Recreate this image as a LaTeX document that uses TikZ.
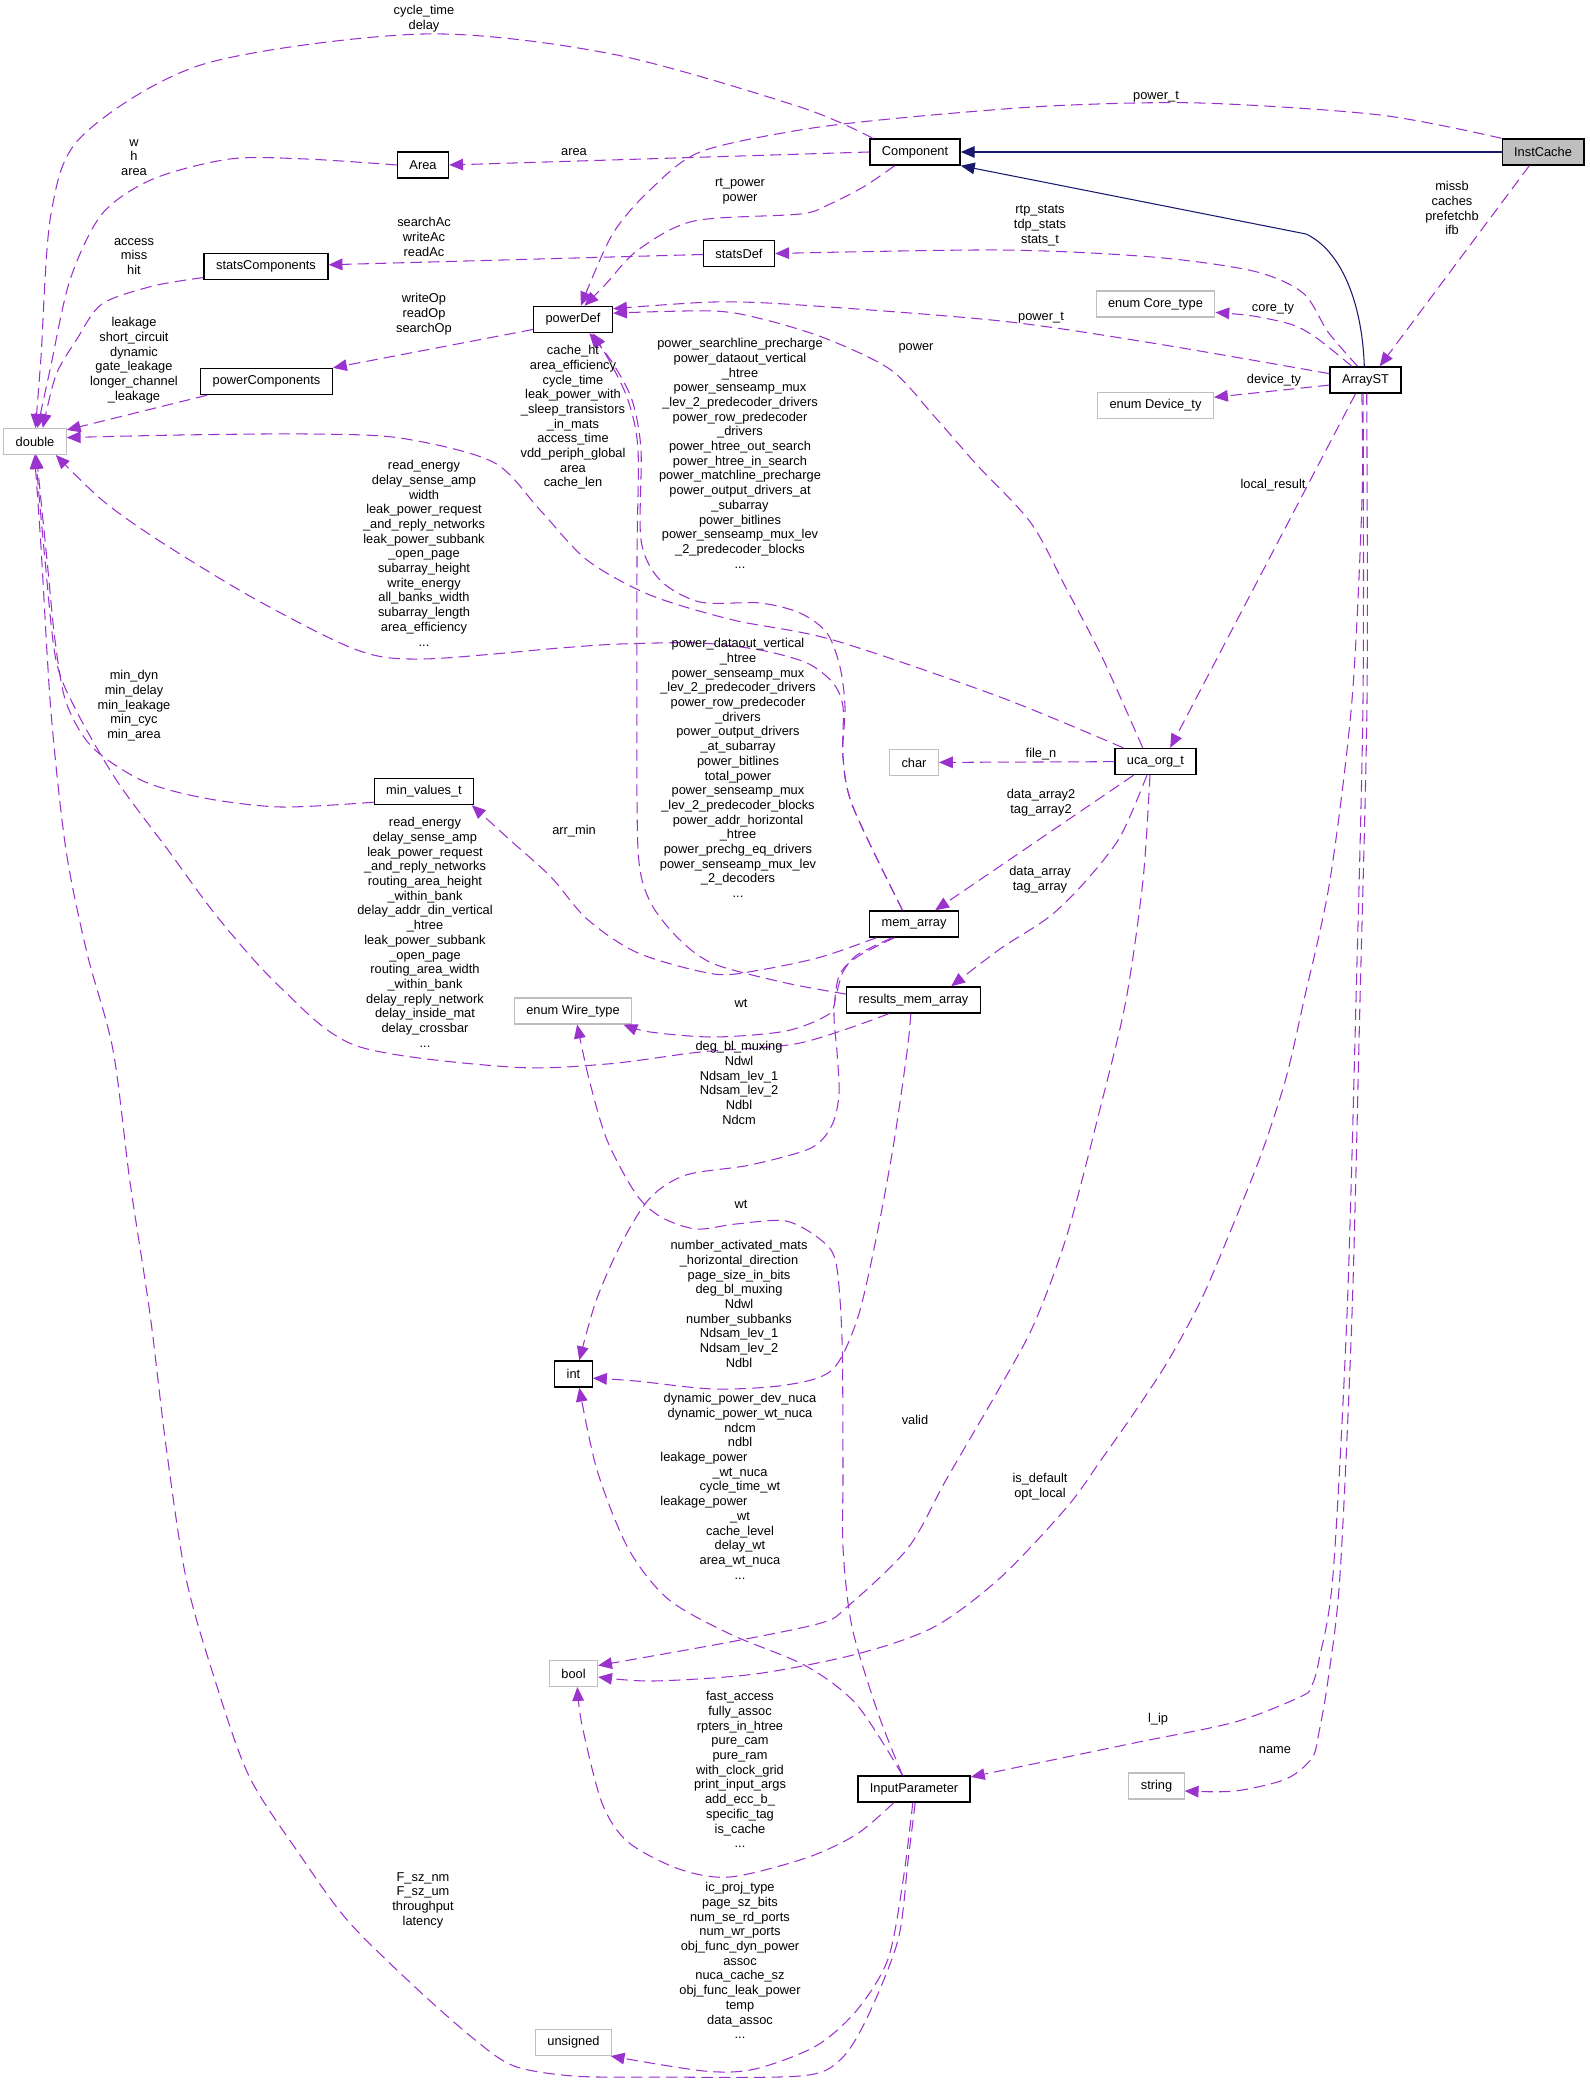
\documentclass[tikz,border=0pt]{standalone}
\usepackage{fontspec}
\setmainfont{Liberation Sans}
\usepackage{xcolor}
\usepackage{tikz}
\usetikzlibrary{arrows.meta}
\definecolor{edgepurple}{HTML}{9A32CD}
\definecolor{inhnavy}{HTML}{191970}
\definecolor{boxgray}{HTML}{BFBFBF}

\begin{document}
\begin{tikzpicture}[x=0.02cm, y=-0.02cm, font=\fontsize{7.3}{8.37}\selectfont,
	cls/.style={draw=black, line width=0.8pt, fill=white, inner xsep=6.8pt, inner ysep=0pt, minimum height=0.52cm},
	ext/.style={cls, draw=boxgray, line width=0.6pt},
	cur/.style={cls, fill=boxgray},
	dep/.style={color=edgepurple, line width=0.6pt, dash pattern=on 6.5pt off 3.5pt, -{Triangle[length=7.9pt,width=6.6pt]}},
	inh/.style={color=inhnavy, line width=0.6pt, -{Triangle[length=7.9pt,width=6.6pt]}},
	lbl/.style={anchor=north, inner sep=0pt, align=center, execute at begin node=\strut}]
		\useasboundingbox (0,0) rectangle (1589,2084);
		
		\node[cur] (InstCache) at (1543,152) {InstCache};
		\node[cls] (Component) at (915,152) {Component};
		\node[cls] (Area) at (423,165) {Area};
		\node[cls] (statsComponents) at (266,266.5) {statsComponents};
		\node[cls] (powerComponents) at (266.5,381.5) {powerComponents};
		\node[cls] (powerDef) at (573,319.5) {powerDef};
		\node[cls] (statsDef) at (739,253.5) {statsDef};
		\node[ext] (double) at (35,441.5) {double};
		\node[cls] (ArrayST) at (1365.5,380) {ArrayST};
		\node[ext] (CoreType) at (1155.5,304) {enum Core\_type};
		\node[ext] (DeviceTy) at (1155.5,405.5) {enum Device\_ty};
		\node[ext] (char) at (914,762.5) {char};
		\node[cls] (ucaOrgT) at (1155.5,761.5) {uca\_org\_t};
		\node[cls] (minValuesT) at (424,791.5) {min\_values\_t};
		\node[cls] (memArray) at (914,924) {mem\_array};
		\node[cls] (resultsMemArray) at (913.5,1000) {results\_mem\_array};
		\node[ext] (WireType) at (573,1011) {enum Wire\_type};
		\node[cls] (int) at (573.5,1374) {int};
		\node[ext] (bool) at (573.5,1673.5) {bool};
		\node[cls] (InputParameter) at (914,1789) {InputParameter};
		\node[ext] (string) at (1156.5,1786) {string};
		\node[ext] (unsigned) at (573.5,2042.5) {unsigned};
		
		\draw[inh] (InstCache) -- (Component);
		\draw[inh] (ArrayST.95) .. controls (1362,300) and (1340,250) .. (1306,234) -- (Component.south east);
		
		\draw[dep] plot[smooth] coordinates {(InstCache.north west) (1380,115) (1200,103) (1050,106) (900,118) (800,130) (700,152) (650,190) (612,235) (powerDef.60)};
		\draw[dep] plot[smooth] coordinates {(Component.162) (800,107) (612,54) (423,34) (204,64) (82,136) (51,214) (41,357) (double.88)};
		\draw[dep] (Component.west) -- (Area.east);
		\draw[dep] plot[smooth] coordinates {(Area.west) (306,159) (230,159) (153,179) (102,214) (70,280) (50,370) (double.80)};
		\draw[dep] plot[smooth] coordinates {(Component.214) (865,186) (830,204) (800,214) (694,221) (638,250) (605,285) (powerDef.50)};
		\draw[dep] (statsDef) -- (statsComponents);
		\draw[dep] plot[smooth] coordinates {(statsComponents.190) (153,286) (102,304) (77,339) (56,375) (double.60)};
		\draw[dep] plot[smooth] coordinates {(ArrayST.120) (1328,332) (1303,293) (1253,271) (1152,257) (1001,250) (statsDef.east)};
		\draw[dep] (powerDef.194) -- (powerComponents.north east);
		\draw[dep] (powerComponents.193) -- (double.20);
		\draw[dep] plot[smooth] coordinates {(ArrayST.170) (1152,343) (1001,321) (800,305) (714,302) (powerDef.15)};
		\draw[dep] plot[smooth] coordinates {(ArrayST.135) (1318,339) (1293,325) (1253,316) (CoreType.-8)};
		\draw[dep] (ArrayST.188) -- (DeviceTy.8);
		\draw[dep] (InstCache.225) -- (ArrayST.44);
		\draw[dep] (ArrayST.234) -- (ucaOrgT.43);
		\draw[dep] plot[smooth] coordinates {(ucaOrgT.133) (1102,657) (1066,588) (1031,523) (977,465) (934,416) (891,370) (827,339) (766,320) (714,311) (powerDef.9)};
		\draw[dep] plot[smooth] coordinates {(ucaOrgT.157) (1000,697) (833,640) (733,620) (650,595) (587,560) (540,510) (493,462) (400,438) (306,434) (180,435) (double.7)};
		\draw[dep] plot[smooth] coordinates {(memArray.130) (853,807) (843,757) (845,707) (840,667) (827,633) (800,613) (760,603) (700,602) (660,580) (641,540) (641,450) (632,400) (612,362) (powerDef.-40)};
		\draw[dep] plot[smooth] coordinates {(resultsMemArray.175) (786,983) (714,964) (680,940) (653,907) (640,870) (637,800) (637,560) (638,450) (628,400) (610,362) (powerDef.-35)};
		\draw[dep] plot[smooth] coordinates {(memArray.130) (853,807) (843,757) (843,707) (833,683) (807,663) (760,650) (700,643) (620,644) (560,648) (423,659) (357,650) (255,599) (158,540) (102,500) (double.-33)};
		\draw[dep] plot[smooth] coordinates {(resultsMemArray.209) (800,1043) (700,1052) (607,1064) (510,1067) (357,1046) (281,988) (219,919) (168,850) (117,781) (77,712) (56,660) (45,560) (double.-88)};
		\draw[dep] plot[smooth] coordinates {(minValuesT.192) (281,807) (204,798) (143,781) (92,747) (66,702) (55,640) (47,560) (double.-84)};
		\draw[dep] (ucaOrgT) -- (char);
		\draw[dep] (ucaOrgT.212) -- (memArray.33);
		\draw[dep] plot[smooth] coordinates {(ucaOrgT.238) (1120,837) (1084,883) (1049,917) (1000,949) (resultsMemArray.20)};
		\draw[dep] plot[smooth] coordinates {(memArray.200) (821,957) (760,970) (714,974) (638,953) (587,919) (551,877) (510,840) (minValuesT.-16)};
		\draw[dep] plot[smooth] coordinates {(memArray.212) (857,955) (843,972) (836,995) (829,1014) (786,1031) (714,1037) (650,1032) (WireType.-15)};
		\draw[dep] plot[smooth] coordinates {(memArray.215) (857,957) (839,976) (834,1014) (837,1052) (839,1094) (832,1125) (811,1148) (750,1165) (686,1175) (650,1198) (621,1244) (596,1301) (int.67)};
		\draw[dep] plot[smooth] coordinates {(resultsMemArray.259) (907,1052) (893,1148) (875,1244) (857,1320) (832,1370) (786,1385) (714,1389) (636,1381) (int.-12)};
		\draw[dep] plot[smooth] coordinates {(InputParameter.130) (878,1713) (852,1627) (843,1548) (843,1470) (842,1339) (836,1263) (821,1240) (786,1221) (736,1224) (696,1229) (661,1217) (636,1194) (607,1140) (589,1079) (WireType.-73)};
		\draw[dep] plot[smooth] coordinates {(InputParameter.130) (857,1705) (806,1666) (730,1634) (668,1599) (628,1548) (597,1470) (int.-67)};
		\draw[dep] plot[smooth] coordinates {(ucaOrgT.-112) (1143,880) (1126,1000) (1101,1105) (1067,1235) (1034,1324) (1000,1387) (946,1480) (908,1548) (847,1607) (821,1623) (730,1642) (bool.18)};
		\draw[dep] plot[smooth] coordinates {(ArrayST.-105) (1362,500) (1352,700) (1330,880) (1304,1000) (1286,1078) (1262,1152) (1235,1220) (1202,1298) (1168,1361) (1134,1413) (1101,1460) (1067,1507) (1000,1578) (934,1627) (857,1654) (755,1674) (653,1681) (bool.-8)};
		\draw[dep] plot[smooth] coordinates {(ArrayST.-100) (1363,700) (1356,1000) (1347,1314) (1333,1575) (1319,1660) (1312,1685) (1302,1696) (1235,1722) (1134,1743) (InputParameter.12)};
		\draw[dep] plot[smooth] coordinates {(ArrayST.-85) (1367,700) (1360,1000) (1352,1314) (1340,1575) (1328,1680) (1319,1732) (1312,1758) (1286,1779) (1235,1791) (string.-10)};
		\draw[dep] plot[smooth] coordinates {(InputParameter.214) (857,1834) (806,1858) (730,1877) (679,1869) (628,1842) (602,1803) (582,1725) (bool.-74)};
		\draw[dep] plot[smooth] coordinates {(InputParameter.-85) (908,1861) (898,1940) (867,2018) (840,2060) (800,2076) (653,2077) (573,2076) (514,2066) (474,2039) (415,1987) (348,1921) (300,1855) (249,1776) (214,1677) (186,1578) (166,1446) (150,1314) (130,1182) (113,1050) (87,953) (66,850) (51,712) (41,547) (double.-92)};
		\draw[dep] plot[smooth] coordinates {(InputParameter.-95) (903,1881) (888,1959) (857,2010) (816,2046) (755,2069) (704,2071) (unsigned.-20)};
		
		\node[lbl] (lCycle) at (424,5) {cycle\_time\\delay};
		\node[lbl] (lPowerT) at (1156,89) {power\_t};
		\node[lbl] (lArea) at (574,145) {area};
		\node[lbl] (lWHArea) at (134,139) {w\\h\\area};
		\node[lbl] (lRtPower) at (740,178) {rt\_power\\power};
		\node[lbl] (lSearchAc) at (424,217) {searchAc\\writeAc\\readAc};
		\node[lbl] (lMissb) at (1452,181) {missb\\caches\\prefetchb\\ifb};
		\node[lbl] (lRtpStats) at (1040,205) {rtp\_stats\\tdp\_stats\\stats\_t};
		\node[lbl] (lAccess) at (134,238) {access\\miss\\hit};
		\node[lbl] (lWriteOp) at (424,293) {writeOp\\readOp\\searchOp};
		\node[lbl] (lCoreTy) at (1273,301) {core\_ty};
		\node[lbl] (lPowerTArr) at (1041,310) {power\_t};
		\node[lbl] (lLeakage) at (134,317) {leakage\\short\_circuit\\dynamic\\gate\_leakage\\longer\_channel\\\_leakage};
		\node[lbl] (lPowerUca) at (916,340) {power};
		\node[lbl] (lDeviceTy) at (1274,373) {device\_ty};
		\node[lbl] (lCacheHt) at (573,345) {cache\_ht\\area\_efficiency\\cycle\_time\\leak\_power\_with\\\_sleep\_transistors\\\_in\_mats\\access\_time\\vdd\_periph\_global\\area\\cache\_len};
		\node[lbl] (lPowerMem) at (740,338) {power\_searchline\_precharge\\power\_dataout\_vertical\\\_htree\\power\_senseamp\_mux\\\_lev\_2\_predecoder\_drivers\\power\_row\_predecoder\\\_drivers\\power\_htree\_out\_search\\power\_htree\_in\_search\\power\_matchline\_precharge\\power\_output\_drivers\_at\\\_subarray\\power\_bitlines\\power\_senseamp\_mux\_lev\\\_2\_predecoder\_blocks\\...};
		\node[lbl] (lEnergyMem) at (424,460) {read\_energy\\delay\_sense\_amp\\width\\leak\_power\_request\\\_and\_reply\_networks\\leak\_power\_subbank\\\_open\_page\\subarray\_height\\write\_energy\\all\_banks\_width\\subarray\_length\\area\_efficiency\\...};
		\node[lbl] (lLocal) at (1273,478) {local\_result};
		\node[lbl] (lPowerRes) at (738,638) {power\_dataout\_vertical\\\_htree\\power\_senseamp\_mux\\\_lev\_2\_predecoder\_drivers\\power\_row\_predecoder\\\_drivers\\power\_output\_drivers\\\_at\_subarray\\power\_bitlines\\total\_power\\power\_senseamp\_mux\\\_lev\_2\_predecoder\_blocks\\power\_addr\_horizontal\\\_htree\\power\_prechg\_eq\_drivers\\power\_senseamp\_mux\_lev\\\_2\_decoders\\...};
		\node[lbl] (lMin) at (134,670) {min\_dyn\\min\_delay\\min\_leakage\\min\_cyc\\min\_area};
		\node[lbl] (lFileN) at (1041,747) {file\_n};
		\node[lbl] (lData2) at (1041,789) {data\_array2\\tag\_array2};
		\node[lbl] (lArrMin) at (574,824) {arr\_min};
		\node[lbl] (lEnergyRes) at (425,817) {read\_energy\\delay\_sense\_amp\\leak\_power\_request\\\_and\_reply\_networks\\routing\_area\_height\\\_within\_bank\\delay\_addr\_din\_vertical\\\_htree\\leak\_power\_subbank\\\_open\_page\\routing\_area\_width\\\_within\_bank\\delay\_reply\_network\\delay\_inside\_mat\\delay\_crossbar\\...};
		\node[lbl] (lData) at (1040,866) {data\_array\\tag\_array};
		\node[lbl] (lWtMem) at (741,997) {wt};
		\node[lbl] (lDegMem) at (739,1041) {deg\_bl\_muxing\\Ndwl\\Ndsam\_lev\_1\\Ndsam\_lev\_2\\Ndbl\\Ndcm};
		\node[lbl] (lWtIp) at (741,1198) {wt};
		\node[lbl] (lNumRes) at (739,1240) {number\_activated\_mats\\\_horizontal\_direction\\page\_size\_in\_bits\\deg\_bl\_muxing\\Ndwl\\number\_subbanks\\Ndsam\_lev\_1\\Ndsam\_lev\_2\\Ndbl};
		\node[lbl] (lValid) at (915,1414) {valid};
		\node[lbl] (lDynIp) at (740,1393) {dynamic\_power\_dev\_nuca\\dynamic\_power\_wt\_nuca\\ndcm\\ndbl\\leakage\_power\rule{41pt}{0pt}\\\_wt\_nuca\\cycle\_time\_wt\\leakage\_power\rule{41pt}{0pt}\\\_wt\\cache\_level\\delay\_wt\\area\_wt\_nuca\\...};
		\node[lbl] (lDefault) at (1040,1473) {is\_default\\opt\_local};
		\node[lbl] (lFastIp) at (740,1691) {fast\_access\\fully\_assoc\\rpters\_in\_htree\\pure\_cam\\pure\_ram\\with\_clock\_grid\\print\_input\_args\\add\_ecc\_b\_\\specific\_tag\\is\_cache\\...};
		\node[lbl] (lIp) at (1158,1712) {l\_ip};
		\node[lbl] (lName) at (1275,1743) {name};
		\node[lbl] (lFsz) at (423,1872) {F\_sz\_nm\\F\_sz\_um\\throughput\\latency};
		\node[lbl] (lProjIp) at (740,1882) {ic\_proj\_type\\page\_sz\_bits\\num\_se\_rd\_ports\\num\_wr\_ports\\obj\_func\_dyn\_power\\assoc\\nuca\_cache\_sz\\obj\_func\_leak\_power\\temp\\data\_assoc\\...};
	\end{tikzpicture}
\end{document}
